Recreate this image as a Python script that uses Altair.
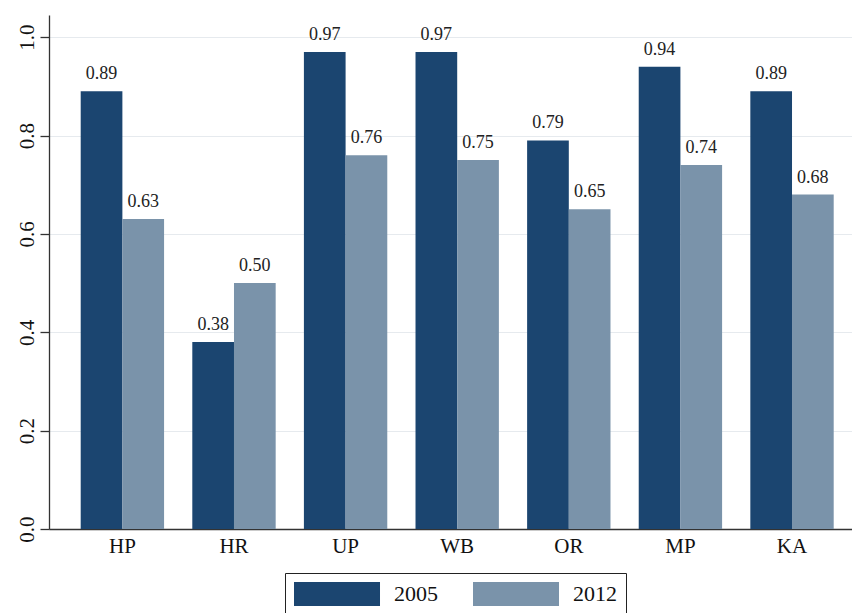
import altair as alt
import pandas as pd

states = ["HP", "HR", "UP", "WB", "OR", "MP", "KA"]
v2005 = [0.89, 0.38, 0.97, 0.97, 0.79, 0.94, 0.89]
v2012 = [0.63, 0.50, 0.76, 0.75, 0.65, 0.74, 0.68]
years = ["2005", "2012"]
colors = ["#1b4570", "#7a93aa"]
yticks = [0.0, 0.2, 0.4, 0.6, 0.8, 1.0]

rows = []
for s, a, b in zip(states, v2005, v2012):
    rows.append({"state": s, "year": "2005", "value": a})
    rows.append({"state": s, "year": "2012", "value": b})
df = pd.DataFrame(rows)

FONT = "Liberation Serif"

x = alt.X(
    "state:N", sort=states, title=None,
    scale=alt.Scale(paddingInner=0.253, paddingOuter=0.224, align=0.634),
    axis=alt.Axis(labelAngle=0, ticks=False, domain=True, labelFontSize=21,
                  labelPadding=6, grid=False, labelColor="#111111",
                  domainColor="#333333", domainWidth=1.3, labelFont=FONT),
)
xo = alt.XOffset("year:N", scale=alt.Scale(domain=years, paddingInner=0, paddingOuter=0))
y = alt.Y(
    "value:Q", title=None,
    scale=alt.Scale(domain=[0, 1.045], nice=False, zero=True),
    axis=alt.Axis(values=yticks, format=".1f", labelAngle=270, labelAlign="center",
                  labelBaseline="alphabetic", tickSize=9, labelPadding=7,
                  labelFontSize=21, labelFont=FONT, labelColor="#111111",
                  grid=True, gridColor="#e6eaee", gridWidth=1,
                  domainColor="#333333", domainWidth=1.3, tickColor="#333333",
                  tickWidth=1.3),
)

legend = alt.Legend(
    orient="none", legendX=236, legendY=558, direction="horizontal", title=None,
    symbolType="M-1,-1L6.167,-1L6.167,1L-1,1Z", symbolSize=576,
    symbolStrokeWidth=0, symbolOpacity=1, labelFontSize=22, labelFont=FONT,
    labelColor="#111111", labelOffset=76, columnPadding=35, padding=9,
    strokeColor="#222222",
)

bars = alt.Chart(df).mark_bar().encode(
    x=x, xOffset=xo, y=y,
    color=alt.Color("year:N", scale=alt.Scale(domain=years, range=colors), legend=legend),
)

labels = alt.Chart(df).mark_text(
    dy=-12, baseline="alphabetic", fontSize=18, font=FONT, color="#222222"
).encode(
    x=x, xOffset=xo, y=y,
    text=alt.Text("value:Q", format=".2f"),
)

chart = alt.layer(bars, labels).properties(
    width=803, height=514,
    autosize=alt.AutoSizeParams(type="none"),
    padding={"left": 49, "top": 15, "right": 0, "bottom": 84},
    background="white",
).configure_view(stroke=None)

chart.save("out.html", embed_options={"renderer": "svg", "actions": False})
